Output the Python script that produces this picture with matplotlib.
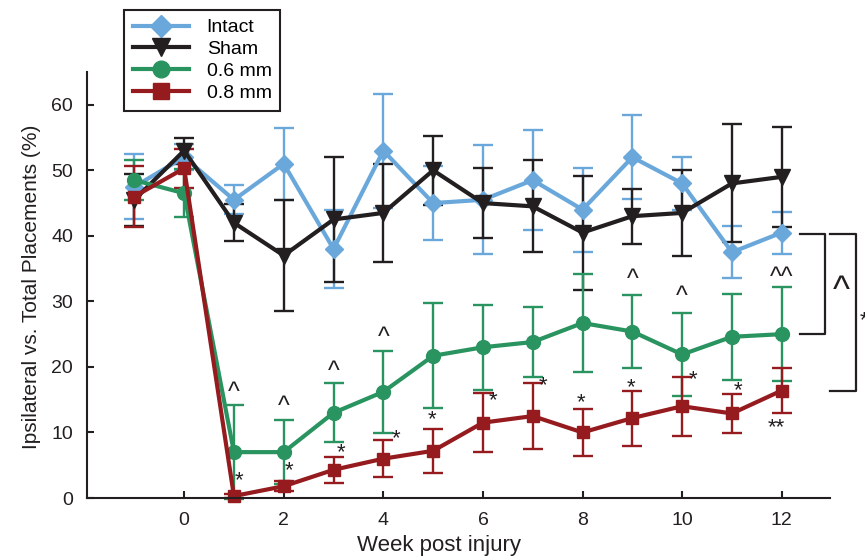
import matplotlib.pyplot as plt
from matplotlib.lines import Line2D

plt.rcParams['font.family'] = ['Liberation Sans', 'DejaVu Sans']

# weeks post injury
weeks = [-1, 0, 1, 2, 3, 4, 5, 6, 7, 8, 9, 10, 11, 12]

intact = [47.5, 52.0, 45.5, 51.0, 38.0, 53.0, 45.0, 45.5, 48.5, 44.0, 52.0, 48.0, 37.5, 40.5]
intact_err = [5.0, 2.0, 2.2, 5.5, 6.0, 8.7, 5.6, 8.3, 7.6, 6.4, 6.4, 4.0, 4.0, 3.2]

sham = [45.5, 53.0, 42.0, 37.0, 42.5, 43.5, 50.0, 45.0, 44.5, 40.5, 43.0, 43.5, 48.0, 49.0]
sham_err = [4.0, 2.0, 2.8, 8.5, 9.5, 7.5, 5.3, 5.3, 7.0, 8.7, 4.2, 6.5, 9.0, 7.6]

mm06 = [48.5, 46.5, 7.0, 7.0, 13.0, 16.2, 21.7, 23.0, 23.8, 26.7, 25.4, 21.9, 24.6, 25.0]
mm06_err = [3.0, 3.7, 7.2, 4.9, 4.5, 6.3, 8.0, 6.5, 5.3, 7.5, 5.6, 6.4, 6.6, 7.2]

mm08 = [46.0, 50.3, 0.3, 1.8, 4.3, 6.0, 7.2, 11.5, 12.5, 10.0, 12.2, 14.0, 12.9, 16.4]
mm08_err = [4.7, 3.0, 0.3, 0.8, 2.0, 2.8, 3.4, 4.5, 5.0, 3.6, 4.2, 4.5, 3.0, 3.4]

# significance marks (x, y, text)
caret_marks = [(1, 16.0, '^'), (2, 13.9, '^'), (3, 19.2, '^'), (4, 24.4, '^'),
               (9, 33.2, '^'), (10, 30.6, '^'), (12, 33.6, '^^')]
star_marks = [(1.10, 3.3, '*'), (2.11, 4.7, '*'), (3.15, 7.5, '*'), (4.26, 9.7, '*'),
              (4.98, 12.5, '*'), (6.2, 15.5, '*'), (7.2, 17.7, '*'), (7.97, 15.1, '*'),
              (8.98, 17.5, '*'), (10.22, 18.6, '*'), (11.12, 17.0, '*'), (11.9, 11.3, '**')]

series = [
    ('Intact', intact, intact_err, '#6aa8db', 'D', 9),
    ('Sham', sham, sham_err, '#231f20', 'v', 11),
    ('0.6 mm', mm06, mm06_err, '#2a9461', 'o', 10),
    ('0.8 mm', mm08, mm08_err, '#951b1e', 's', 9),
]

ink = '#231f20'

fig = plt.figure(figsize=(8.65, 5.56), dpi=100)
ax = fig.add_axes([0.1006, 0.1043, 0.859, 0.7662])

handles = []
for label, vals, err, col, mk, ms in series:
    ax.errorbar(weeks, vals, yerr=err, color=col, marker=mk, markersize=ms,
                linewidth=3.0, elinewidth=1.7, capsize=7, capthick=1.7,
                clip_on=False)
    handles.append(Line2D([], [], color=col, marker=mk, markersize=ms + 2,
                          linewidth=3.0, label=label))

for x, y, t in caret_marks:
    ax.text(x, y, t, ha='center', va='center', fontsize=18, color=ink)
for x, y, t in star_marks:
    ax.text(x, y - 0.6, t, ha='center', va='center', fontsize=16, color=ink)

# brackets on the right
ax.plot([12.37, 12.87, 12.87, 12.37], [40.3, 40.3, 25.1, 25.1], color=ink,
        linewidth=1.6, clip_on=False)
ax.plot([12.97, 13.49, 13.49, 12.97], [40.3, 40.3, 16.4, 16.4], color=ink,
        linewidth=1.6, clip_on=False)
ax.text(13.2, 31.5, '^', ha='center', va='center', fontsize=26, color=ink)
ax.text(13.66, 27.0, '*', ha='center', va='center', fontsize=16, color=ink)

ax.set_xlim(-1.95, 12.97)
ax.set_ylim(0, 65)
ax.set_xticks([0, 2, 4, 6, 8, 10, 12])
ax.set_yticks([0, 10, 20, 30, 40, 50, 60])
ax.tick_params(direction='in', length=5, width=1.5, labelsize=14, pad=10,
               colors=ink)
for s in ['top', 'right']:
    ax.spines[s].set_visible(False)
for s in ['left', 'bottom']:
    ax.spines[s].set_linewidth(1.5)
    ax.spines[s].set_color(ink)

ax.set_xlabel('Week post injury', fontsize=16, color=ink)
ax.xaxis.set_label_coords(0.474, -0.088)
ax.set_ylabel('Ipsilateral vs. Total Placements (%)', fontsize=15, color=ink)
ax.yaxis.set_label_coords(-0.062, 0.495)

leg = fig.legend(handles=handles, loc='upper left', bbox_to_anchor=(0.1434, 0.982),
                 bbox_transform=fig.transFigure, borderaxespad=0, fontsize=14,
                 frameon=True, fancybox=False, edgecolor=ink, framealpha=1,
                 handlelength=2.9, labelspacing=0.22, borderpad=0.45,
                 handletextpad=0.9)
leg.get_frame().set_linewidth(1.5)

fig.savefig('out.png', dpi=100)
